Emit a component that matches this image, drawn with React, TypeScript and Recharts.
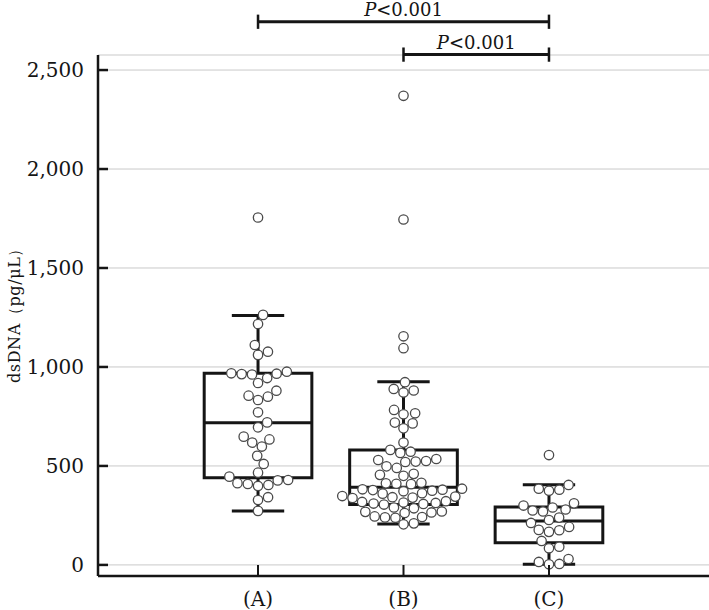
import React from 'react';
import {
  ComposedChart,
  Scatter,
  XAxis,
  YAxis,
  CartesianGrid,
  ReferenceArea,
  ReferenceLine,
  Label,
} from 'recharts';

// ---------------- data ----------------
const categories = ['(A)', '(B)', '(C)'];

const groupA = [
  1755, 1263, 1217, 1111, 1077, 1061, 976, 968, 966, 964, 962, 944, 919, 880, 855, 850, 833, 771,
  720, 695, 648, 634, 618, 598, 551, 510, 466, 446, 429, 427, 413, 409, 404, 399, 342, 328, 273,
];
const groupB = [
  2370, 1745, 1155, 1095, 923, 889, 881, 871, 783, 766, 761, 719, 715, 690, 618, 581, 572, 566,
  535, 530, 525, 522, 520, 498, 490, 460, 455, 450, 415, 412, 410, 408, 385, 382, 380, 378, 375,
  372, 362, 360, 348, 345, 342, 340, 338, 322, 318, 315, 313, 310, 308, 305, 290, 286, 270, 268,
  265, 262, 245, 242, 240, 238, 210, 205,
];
const groupC = [
  555, 404, 385, 380, 375, 311, 300, 290, 280, 275, 270, 239, 227, 212, 192, 177, 175, 167, 121,
  92, 84, 30, 15, 5, 3,
];

const whiskerLow = [273, 207, 3];
const q1 = [440, 305, 112];
const median = [718, 392, 222];
const q3 = [968, 580, 292];
const whiskerHigh = [1260, 925, 405];

const yTicks = [0, 500, 1000, 1500, 2000, 2500];

const compFrom = [1, 2];
const compTo = [3, 3];
const compLevel = [2744, 2578];
const compText = ['<0.001', '<0.001'];

// ---------------- layout ----------------
const W = 709;
const H = 610;
const PLOT_LEFT = 98;
const PLOT_TOP = 55;
const PLOT_BOTTOM = 576;
const X_DOMAIN: [number, number] = [-0.1, 4.1];
const Y_DOMAIN: [number, number] = [-56, 2576];
const PX_PER_VAL = (PLOT_BOTTOM - PLOT_TOP) / (Y_DOMAIN[1] - Y_DOMAIN[0]);
const PX_PER_CAT = (W - PLOT_LEFT) / (X_DOMAIN[1] - X_DOMAIN[0]);
const BOX_HALF = 0.37;
const CAP_HALF = 0.18;
const SIG_CAP = 36;
const FONT = '"DejaVu Serif", "Liberation Serif", serif';
const INK = '#151515';

function swarmOffsets(values: number[]): number[] {
  const D = 10.4;
  const order = values.map((_, i) => i).sort((a, b) => values[a] - values[b]);
  const placed: { x: number; y: number }[] = [];
  const off = new Array(values.length).fill(0);
  for (const i of order) {
    const y = values[i] * PX_PER_VAL;
    const cands = [0];
    for (const p of placed) {
      const dy = Math.abs(p.y - y);
      if (dy < D) {
        const dx = Math.sqrt(D * D - dy * dy);
        cands.push(p.x + dx, p.x - dx);
      }
    }
    cands.sort((a, b) => Math.abs(a) - Math.abs(b));
    let chosen = 0;
    for (const c of cands) {
      if (placed.every((p) => (p.x - c) ** 2 + (p.y - y) ** 2 >= D * D - 0.01)) {
        chosen = c;
        break;
      }
    }
    placed.push({ x: chosen, y });
    off[i] = chosen / PX_PER_CAT;
  }
  return off;
}

const groups = [groupA, groupB, groupC];
const points = groups.flatMap((g, gi) => {
  const offs = swarmOffsets(g);
  return g.map((v, i) => ({ x: gi + 1 + offs[i], y: v }));
});

const Dot = (props: any) => (
  <circle cx={props.cx} cy={props.cy} r={4.7} fill="#ffffff" stroke="#4a4a4a" strokeWidth={1.3} />
);

const YTick = (props: any) => {
  const { y, payload } = props;
  return (
    <g>
      <line x1={PLOT_LEFT} x2={PLOT_LEFT + 10} y1={y} y2={y} stroke={INK} strokeWidth={2.5} />
      <text x={PLOT_LEFT - 14} y={y + 7} textAnchor="end" fontFamily={FONT} fontSize={20} fill={INK}>
        {Number(payload.value).toLocaleString('en-US')}
      </text>
    </g>
  );
};

const XTick = (props: any) => {
  const { x, payload } = props;
  return (
    <g>
      <line x1={x} x2={x} y1={PLOT_BOTTOM} y2={PLOT_BOTTOM - 11} stroke={INK} strokeWidth={2} />
      <text x={x} y={PLOT_BOTTOM + 30} textAnchor="middle" fontFamily={FONT} fontSize={20} fill={INK}>
        {categories[Math.round(payload.value) - 1]}
      </text>
    </g>
  );
};

const sigLabel = (text: string) => (props: any) => {
  const vb = props.viewBox || {};
  const cx = (vb.x ?? 0) + (vb.width ?? 0) / 2;
  const cy = vb.y ?? 0;
  return (
    <text x={cx} y={cy - 6} textAnchor="middle" fontFamily={FONT} fontSize={18} fill={INK}>
      <tspan fontStyle="italic">P</tspan>
      <tspan>{text}</tspan>
    </text>
  );
};

const yLabel = () => {
  const cx = 14;
  const cy = (PLOT_TOP + PLOT_BOTTOM) / 2 - 4;
  return (
    <text
      x={cx}
      y={cy}
      transform={`rotate(-90, ${cx}, ${cy})`}
      textAnchor="middle"
      dominantBaseline="central"
      fontFamily={FONT}
      fontSize={16}
      letterSpacing={0.6}
      fill={INK}
    >
      dsDNA（pg/μL）
    </text>
  );
};

export default function App() {
  const idx = [0, 1, 2];
  return (
    <div style={{ position: 'absolute', left: 0, top: 0, background: '#fff' }}>
      <ComposedChart
        width={W}
        height={H}
        margin={{ top: PLOT_TOP, right: 0, bottom: 0, left: 0 }}
        data={points}
      >
        <CartesianGrid vertical={false} stroke="#c9c9c9" strokeWidth={1} />
        <XAxis
          type="number"
          dataKey="x"
          domain={X_DOMAIN}
          ticks={[1, 2, 3]}
          allowDataOverflow
          height={H - PLOT_BOTTOM}
          axisLine={{ stroke: INK, strokeWidth: 2.5 }}
          tickLine={false}
          tick={<XTick />}
          interval={0}
        />
        <YAxis
          type="number"
          dataKey="y"
          domain={Y_DOMAIN}
          ticks={yTicks}
          allowDataOverflow
          width={PLOT_LEFT}
          axisLine={{ stroke: INK, strokeWidth: 2.5 }}
          tickLine={false}
          tick={<YTick />}
          interval={0}
        >
          <Label content={yLabel} />
        </YAxis>

        {idx.map((i) => (
          <ReferenceArea
            key={`box${i}`}
            x1={i + 1 - BOX_HALF}
            x2={i + 1 + BOX_HALF}
            y1={q1[i]}
            y2={q3[i]}
            fill="none"
            fillOpacity={0}
            stroke={INK}
            strokeWidth={3}
            ifOverflow="visible"
          />
        ))}
        {idx.map((i) => (
          <ReferenceLine
            key={`med${i}`}
            segment={[
              { x: i + 1 - BOX_HALF, y: median[i] },
              { x: i + 1 + BOX_HALF, y: median[i] },
            ]}
            stroke={INK}
            strokeWidth={3}
            ifOverflow="visible"
          />
        ))}
        {idx.map((i) => (
          <ReferenceLine
            key={`wu${i}`}
            segment={[
              { x: i + 1, y: q3[i] },
              { x: i + 1, y: whiskerHigh[i] },
            ]}
            stroke={INK}
            strokeWidth={3}
            ifOverflow="visible"
          />
        ))}
        {idx.map((i) => (
          <ReferenceLine
            key={`wl${i}`}
            segment={[
              { x: i + 1, y: whiskerLow[i] },
              { x: i + 1, y: q1[i] },
            ]}
            stroke={INK}
            strokeWidth={3}
            ifOverflow="visible"
          />
        ))}
        {idx.map((i) => (
          <ReferenceLine
            key={`cu${i}`}
            segment={[
              { x: i + 1 - CAP_HALF, y: whiskerHigh[i] },
              { x: i + 1 + CAP_HALF, y: whiskerHigh[i] },
            ]}
            stroke={INK}
            strokeWidth={3}
            ifOverflow="visible"
          />
        ))}
        {idx.map((i) => (
          <ReferenceLine
            key={`cl${i}`}
            segment={[
              { x: i + 1 - CAP_HALF, y: whiskerLow[i] },
              { x: i + 1 + CAP_HALF, y: whiskerLow[i] },
            ]}
            stroke={INK}
            strokeWidth={3}
            ifOverflow="visible"
          />
        ))}

        <Scatter data={points} dataKey="y" shape={<Dot />} isAnimationActive={false} />

        {compFrom.map((f, k) => (
          <ReferenceLine
            key={`sig${k}`}
            segment={[
              { x: f, y: compLevel[k] },
              { x: compTo[k], y: compLevel[k] },
            ]}
            stroke={INK}
            strokeWidth={3}
            ifOverflow="visible"
          >
            <Label content={sigLabel(compText[k])} />
          </ReferenceLine>
        ))}
        {compFrom.map((f, k) => (
          <ReferenceLine
            key={`sigL${k}`}
            segment={[
              { x: f, y: compLevel[k] - SIG_CAP },
              { x: f, y: compLevel[k] + SIG_CAP },
            ]}
            stroke={INK}
            strokeWidth={2.5}
            ifOverflow="visible"
          />
        ))}
        {compFrom.map((f, k) => (
          <ReferenceLine
            key={`sigR${k}`}
            segment={[
              { x: compTo[k], y: compLevel[k] - SIG_CAP },
              { x: compTo[k], y: compLevel[k] + SIG_CAP },
            ]}
            stroke={INK}
            strokeWidth={2.5}
            ifOverflow="visible"
          />
        ))}
      </ComposedChart>
    </div>
  );
}
